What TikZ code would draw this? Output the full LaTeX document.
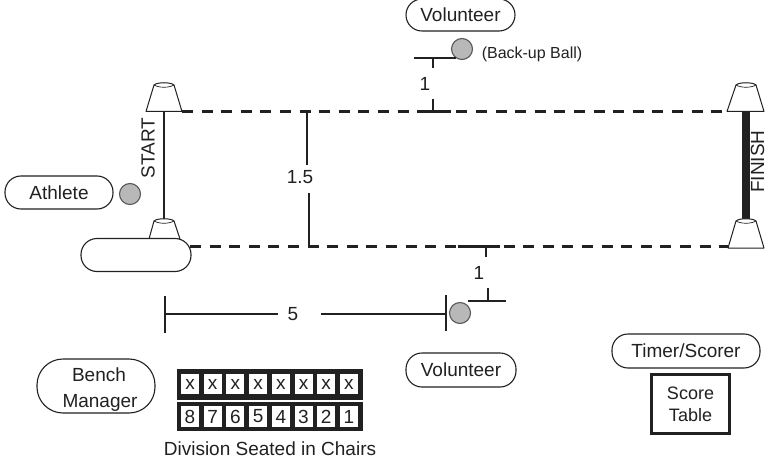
\documentclass[tikz,border=0pt]{standalone}
\usepackage{fontspec}
\setmainfont{Liberation Sans}
\definecolor{ink}{gray}{0.13}
\definecolor{ballfill}{gray}{0.72}
\tikzset{
  every node/.style={text=ink,font=\fontsize{19}{22}\selectfont,inner sep=0pt},
  pill/.style={draw=ink,line width=1.1pt,rounded corners=16pt,fill=white,minimum width=#1,align=center},
  ball/.style={circle,draw=ink!75,line width=1.1pt,fill=ballfill,minimum size=21pt},
  cone/.style={draw=ink,line width=1pt,fill=white,line join=round},
  lane/.style={draw=ink,line width=3pt,dash pattern=on 11pt off 8.6pt},
  dim/.style={draw=ink,line width=1.2pt},
  cell/.style={draw=ink,line width=1pt,fill=white,minimum width=19pt,minimum height=21.5pt},
}
\newcommand{\drawcone}[5]{% base y, base left, base right, top y, centre
  \path[cone] (#2,#1) -- (#5-10,#4+3) .. controls (#5-7,#4) and (#5+7,#4) .. (#5+10,#4+3) -- (#3,#1) -- cycle;
  \draw[ink,line width=.7pt] (#5-10,#4+3) .. controls (#5-5,#4+6) and (#5+5,#4+6) .. (#5+10,#4+3);
}
\begin{document}
\begin{tikzpicture}[x=1pt,y=-1pt]
\useasboundingbox[fill=white] (0,0) rectangle (765,465);

% lanes
\coordinate (tl) at (182,111.5); \coordinate (tr) at (727,111.5);
\coordinate (bl) at (190,246);   \coordinate (br) at (728,246);
\draw[lane] (tl) -- (tr);
\draw[lane] (bl) -- (br);

% posts
\coordinate (s1) at (164,112); \coordinate (s2) at (164,219);
\coordinate (f1) at (746,112); \coordinate (f2) at (746,219);
\draw[ink,line width=2.6pt] (s1) -- (s2);
\draw[ink,line width=8pt] (f1) -- (f2);

% cones
\drawcone{111.5}{146}{182}{82}{164}
\drawcone{239}{149}{180}{218}{164}
\drawcone{111.5}{727}{764}{82}{746}
\drawcone{248}{728}{764}{218}{746}

\node[rotate=90] (start) at (148,148) {START};
\node[rotate=90] (finish) at (757.6,161.5) {FINISH};

% pills
\node[pill=110pt,minimum height=33pt] (boxpill) at (136,255) {};
\node[pill=108pt,minimum height=33pt] (athlete) at (59,192.5) {Athlete};
\node[ball] (b0) at (130,194) {};
\node[pill=109pt,minimum height=32pt] (voltop) at (460.5,15) {Volunteer};
\node[pill=110pt,minimum height=34pt] (volbot) at (461,370) {Volunteer};
\node[pill=148pt,minimum height=34pt] (timer) at (686,351) {Timer/Scorer};
\node[pill=118pt,minimum height=54pt,rounded corners=26pt,font=\fontsize{19}{26}\selectfont] (bench) at (96,386) {\rule{0pt}{20pt}\hspace*{6pt}Bench\\\hspace*{8pt}Manager};
\node[draw=ink,line width=3.5pt,minimum width=78pt,minimum height=59pt,align=center,font=\fontsize{18}{22}\selectfont] (score) at (690.5,404) {Score\\Table};

% top volunteer
\node[ball] (b1) at (462,49) {};
\coordinate (h1l) at (414,58);
\coordinate (h1t) at (433,58);
\coordinate (h1d) at (433,68);
\coordinate (h1u) at (433,99);
\coordinate (h1f) at (433,111.5);
\draw[dim] (h1l) -- (h1l -| b1.235);
\draw[dim] (h1t) -- (h1d);
\draw[dim] (h1u) -- (h1f);
\draw[ink,line width=3pt] (417,111.5) -- (451,111.5);
\node (one1) at (425,84) {1};
\node[font=\fontsize{16}{18}\selectfont] (backup) at (532,54) {(Back-up Ball)};

% 1.5
\node (d15) at (300,177) {1.5};
\coordinate (m1) at (307,111.5); \coordinate (m2) at (307,165);
\coordinate (m3) at (309,193);   \coordinate (m4) at (309,246);
\draw[dim] (m1) -- (m2);
\draw[dim] (m3) -- (m4);

% bottom volunteer
\node[ball] (b2) at (460,313) {};
\coordinate (h2f) at (486,246);
\coordinate (h2a) at (486,257);
\coordinate (h2u) at (488,288);
\coordinate (h2t) at (488,301);
\coordinate (h2r) at (506,301);
\draw[dim] (h2f) -- (h2a);
\draw[dim] (h2u) -- (h2t);
\draw[dim] (h2r -| b2.45) -- (h2r);
\draw[ink,line width=3pt] (458,246) -- (500,246);
\node (one2) at (479,273) {1};

% 5 m dimension
\node (five) at (293,314) {5};
\coordinate (e1) at (165,314); \coordinate (e1a) at (165,296); \coordinate (e1b) at (165,333);
\coordinate (e2) at (446,314); \coordinate (e2a) at (446,295); \coordinate (e2b) at (446,331);
\coordinate (e1s) at (278,314); \coordinate (e2s) at (321,314);
\draw[dim] (e1a) -- (e1b);
\draw[dim] (e2a) -- (e2b);
\draw[dim] (e1) -- (e1s);
\draw[dim] (e2s) -- (e2);

% chairs
\fill[ink] (177,369) rectangle (363,400);
\fill[ink] (177,402) rectangle (363,431);
\foreach \i/\n in {0/8,1/7,2/6,3/5,4/4,5/3,6/2,7/1}{
  \node[cell] (cx\i) at ({190+22.7*\i},384) {x};
  \node[cell] (cn\i) at ({190+22.7*\i},416.5) {\n};
}
\node (chairs) at (270,449) {Division Seated in Chairs};
\end{tikzpicture}
\end{document}
